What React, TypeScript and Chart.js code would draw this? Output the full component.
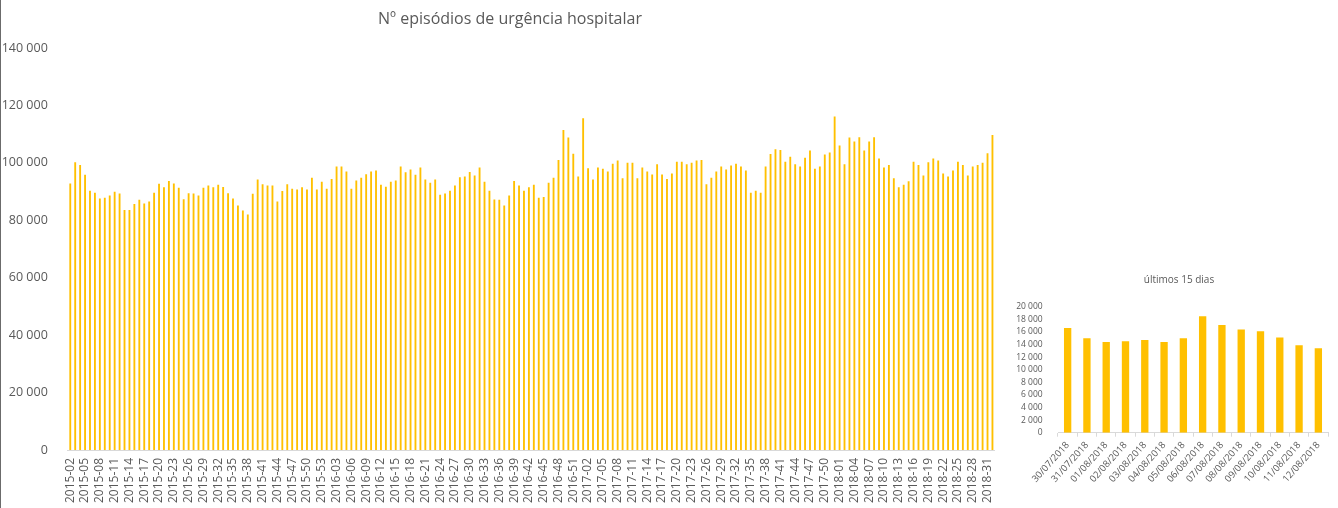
import React, { useEffect, useRef } from "react";
import { Chart, registerables } from "chart.js";

Chart.register(...registerables);

// ---- Data ----
const mainTitle = "Nº episódios de urgência hospitalar";
const smallTitle = "últimos 15 dias";

// [year, first week, last week]
const yearWeekRanges: [number, number, number][] = [
  [2015, 2, 53],
  [2016, 1, 52],
  [2017, 1, 52],
  [2018, 1, 32],
];

const weekLabels: string[] = [];
for (const [yr, a, b] of yearWeekRanges) {
  for (let w = a; w <= b; w++) weekLabels.push(`${yr}-${String(w).padStart(2, "0")}`);
}

const weeklyEpisodes = [
  92700, 100100, 99100, 95700, 90200, 89500, 87500, 87700, 88500, 89800,
  89200, 83500, 83500, 85600, 87000, 85700, 86400, 89500, 92600, 91400,
  93600, 92700, 91200, 87200, 89300, 89200, 88500, 91200, 92000, 91400,
  92300, 91500, 89300, 87500, 85000, 83300, 81900, 89100, 94100, 92400,
  92000, 92000, 86400, 90100, 92400, 90900, 90600, 91400, 90600, 94700,
  90600, 93300, 90900, 94300, 98600, 98600, 96900, 90900, 93700, 94700,
  95900, 96900, 97200, 92300, 91600, 93300, 93700, 98600, 96600, 97600,
  95700, 98300, 94100, 93000, 94100, 88800, 89200, 90200, 92000, 94900,
  95100, 96700, 95500, 98300, 93300, 90200, 87100, 87000, 85000, 88500,
  93600, 92000, 90200, 91400, 92300, 87700, 88000, 93000, 94700, 100900,
  111300, 108700, 103100, 95100, 115400, 98000, 94100, 98300, 97800, 96900,
  99600, 100700, 94500, 99900, 99900, 94500, 98300, 96900, 95800, 99400,
  95800, 94300, 96200, 100300, 100300, 99400, 99900, 100700, 100900, 92400,
  94700, 96900, 98600, 97600, 99000, 99600, 98600, 97200, 89500, 90200,
  89500, 98600, 103000, 104600, 104400, 100300, 102000, 99400, 98600, 101700,
  104200, 97800, 98600, 102800, 103500, 116000, 105900, 99400, 108700, 107300,
  108800, 104200, 107300, 108800, 101400, 98300, 99100, 94500, 91400, 92300,
  93500, 100300, 99100, 95500, 100100, 101400, 100700, 96200, 95100, 97200,
  100300, 99100, 95500, 98600, 99100, 99900, 103200, 109600,
];

const dayLabels = [
  "30/07/2018", "31/07/2018", "01/08/2018", "02/08/2018", "03/08/2018",
  "04/08/2018", "05/08/2018", "06/08/2018", "07/08/2018", "08/08/2018",
  "09/08/2018", "10/08/2018", "11/08/2018", "12/08/2018",
];
const dailyEpisodes = [
  16600, 15000, 14400, 14500, 14700, 14400, 15000, 18500, 17100, 16400,
  16100, 15100, 13900, 13400,
];

const mainYMax = 140000;
const mainYStep = 20000;
const smallYMax = 20000;
const smallYStep = 2000;

// ---- Helpers ----
const fmt = (v: number | string) =>
  String(v).replace(/\B(?=(\d{3})+(?!\d))/g, " ");

const GOLD = "#FFC000";
const TEXT = "#595959";
const AXIS = "#d9d9d9";
const FONT = "'Open Sans', 'DejaVu Sans', sans-serif";

function MainChart() {
  const ref = useRef<HTMLCanvasElement | null>(null);
  useEffect(() => {
    if (!ref.current) return;
    const chart = new Chart(ref.current, {
      type: "bar",
      data: {
        labels: weekLabels,
        datasets: [
          {
            data: weeklyEpisodes,
            backgroundColor: GOLD,
            barThickness: 1.2,
          },
        ],
      },
      options: {
        animation: false,
        responsive: false,
        maintainAspectRatio: false,
        layout: { padding: { top: 48, right: 10, left: 0, bottom: 0 } },
        plugins: {
          legend: { display: false },
          tooltip: { enabled: false },
          title: { display: false },
        },
        scales: {
          x: {
            offset: true,
            grid: { display: true, drawOnChartArea: false, drawTicks: false, color: AXIS },
            border: { display: true, color: AXIS, width: 1 },
            ticks: {
              autoSkip: false,
              maxRotation: 90,
              minRotation: 90,
              padding: 8,
              color: TEXT,
              font: { family: FONT, size: 12 },
              callback: (_v: any, i: number) => (i % 3 === 0 ? weekLabels[i] : null),
            },
            afterFit: (s: any) => {
              s.height = 58;
            },
          },
          y: {
            min: 0,
            max: mainYMax,
            grid: { display: false },
            border: { display: false },
            ticks: {
              stepSize: mainYStep,
              autoSkip: false,
              padding: 12,
              color: TEXT,
              font: { family: FONT, size: 12.5 },
              callback: (v: any) => fmt(v),
            },
            afterFit: (s: any) => {
              s.width = 67.8;
            },
          },
        },
      },
    });
    return () => chart.destroy();
  }, []);
  return (
    <canvas
      ref={ref}
      width={1010}
      height={508}
      style={{ position: "absolute", left: 0, top: 0, width: 1010, height: 508 }}
    />
  );
}

function SmallChart() {
  const ref = useRef<HTMLCanvasElement | null>(null);
  useEffect(() => {
    if (!ref.current) return;
    const chart = new Chart(ref.current, {
      type: "bar",
      data: {
        labels: dayLabels,
        datasets: [
          {
            data: dailyEpisodes,
            backgroundColor: GOLD,
            barPercentage: 0.38,
            categoryPercentage: 1,
          },
        ],
      },
      options: {
        animation: false,
        responsive: false,
        maintainAspectRatio: false,
        layout: { padding: { top: 46.7, right: 10, left: 0, bottom: 0 } },
        plugins: {
          legend: { display: false },
          tooltip: { enabled: false },
          title: { display: false },
        },
        scales: {
          x: {
            offset: true,
            grid: {
              display: true,
              drawOnChartArea: false,
              drawTicks: true,
              tickLength: 4,
              color: AXIS,
            },
            border: { display: true, color: AXIS, width: 1 },
            ticks: {
              autoSkip: false,
              maxRotation: 48,
              minRotation: 48,
              padding: 3,
              color: TEXT,
              font: { family: FONT, size: 9.5 },
            },
            afterFit: (s: any) => {
              s.height = 75.3;
            },
          },
          y: {
            min: 0,
            max: smallYMax,
            grid: { display: false },
            border: { display: false },
            ticks: {
              stepSize: smallYStep,
              autoSkip: false,
              padding: 7.3,
              color: TEXT,
              font: { family: FONT, size: 8.5 },
              callback: (v: any) => fmt(v),
            },
            afterFit: (s: any) => {
              s.width = 48;
            },
          },
        },
      },
    });
    return () => chart.destroy();
  }, []);
  return (
    <canvas
      ref={ref}
      width={328}
      height={248}
      style={{ position: "absolute", left: 1010, top: 260, width: 328, height: 248 }}
    />
  );
}

export default function App() {
  return (
    <div
      style={{
        position: "fixed",
        left: 0,
        top: 0,
        width: 1338,
        height: 508,
        background: "#ffffff",
        overflow: "hidden",
        fontFamily: FONT,
      }}
    >
      <div style={{ position: "absolute", left: 0, top: 0, width: 1, height: 508, background: "#6b6b6b" }} />
      <MainChart />
      <SmallChart />
      <div
        style={{
          position: "absolute",
          left: 260,
          width: 500,
          top: 8,
          textAlign: "center",
          fontSize: 16,
          lineHeight: "20px",
          color: TEXT,
          whiteSpace: "nowrap",
        }}
      >
        {mainTitle}
      </div>
      <div
        style={{
          position: "absolute",
          left: 1079,
          width: 200,
          top: 272,
          textAlign: "center",
          fontSize: 10,
          lineHeight: "14px",
          color: TEXT,
          whiteSpace: "nowrap",
        }}
      >
        {smallTitle}
      </div>
    </div>
  );
}
